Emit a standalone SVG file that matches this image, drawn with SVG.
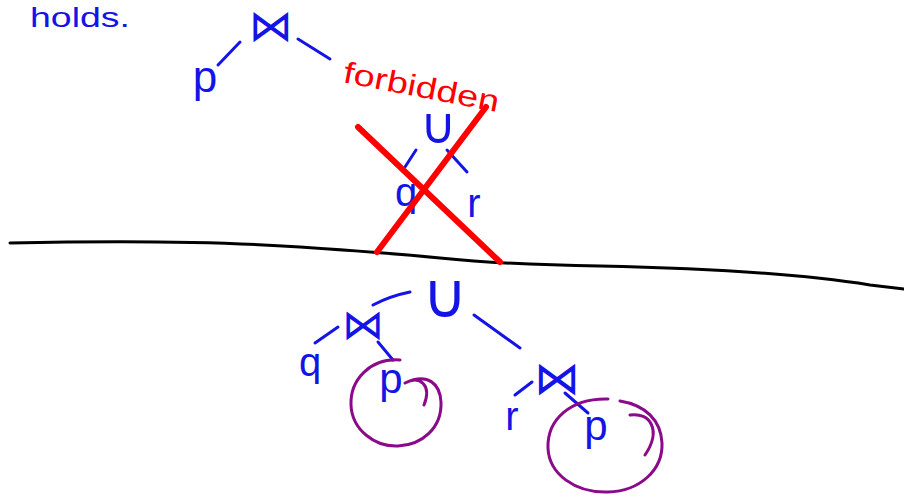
<svg xmlns="http://www.w3.org/2000/svg" width="904" height="496" viewBox="0 0 904 496">
<style>
.b{fill:#1414e6;font-family:"Liberation Sans","DejaVu Sans",sans-serif;text-anchor:middle}
.sym{fill:#1414e6;font-family:"DejaVu Sans",sans-serif;text-anchor:middle}
.e{fill:none;stroke:#1414e6;stroke-width:3;stroke-linecap:round}
.red{fill:none;stroke:#ff0000;stroke-width:6;stroke-linecap:round}
.circ{fill:none;stroke:#8a0a8a;stroke-width:3;stroke-linecap:round}
</style>
<rect width="904" height="496" fill="#ffffff"/>
<path d="M10,243 C100,241 200,240 300,247 C360,251 400,254 440,258 C480,262 520,265 600,266 C700,268 800,274 870,285 L904,289" fill="none" stroke="#000000" stroke-width="3" stroke-linecap="round"/>
<text x="30" y="27" class="b" style="text-anchor:start" font-size="28" textLength="100" lengthAdjust="spacingAndGlyphs">holds.</text>
<g id="connectors">
<path class="e" d="M218,65 L240,42"/>
<path class="e" d="M298,39 L330,59"/>
<path class="e" d="M416,150 L405,167"/>
<path class="e" d="M447,150 L467,172"/>
<path class="e" d="M373,305 Q390,296 410,292"/>
<path class="e" d="M474,315 L520,348"/>
<path class="e" d="M315,343 L338,327"/>
<path class="e" d="M378,342 L393,360"/>
<path class="e" d="M515,395 L532,382"/>
<path class="e" d="M565,393 L588,413"/>
</g>
<g id="top-join"><text x="271" y="41" class="sym" font-size="44">⋈</text></g>
<g id="top-p"><text x="205" y="92" class="b" font-size="44">p</text></g>
<g id="forbidden"><text x="0" y="0" transform="translate(342,82) rotate(11)" fill="#ff0000" font-family="Liberation Sans,sans-serif" font-size="30" textLength="158" lengthAdjust="spacingAndGlyphs">forbidden</text></g>
<g id="crossed-union"><text x="438" y="143" class="sym" font-size="50">∪</text></g>
<g id="crossed-q"><text x="406" y="206" class="b" font-size="40">q</text></g>
<g id="crossed-r"><text x="474" y="217" class="b" font-size="40">r</text></g>
<g id="cross"><path class="red" d="M358,127 L500,262"/><path class="red" d="M377,252 L486,107"/></g>
<g id="union"><text x="445" y="317" class="sym" font-size="62">∪</text></g>
<g id="join-left"><text x="363" y="339" class="sym" font-size="42">⋈</text></g>
<g id="q"><text x="310" y="376" class="b" font-size="40">q</text></g>
<g id="p-left"><text x="391" y="393" class="b" font-size="42">p</text><path class="circ" d="M400,360 C370,358 350,380 351,405 C352,430 375,447 398,446 C422,445 442,428 441,402 C440,384 428,372 405,383 M405,383 C420,375 432,385 424,405"/></g>
<g id="join-right"><text x="557" y="394" class="sym" font-size="46">⋈</text></g>
<g id="r"><text x="512" y="430" class="b" font-size="40">r</text></g>
<g id="p-right"><text x="596" y="440" class="b" font-size="42">p</text><path class="circ" d="M608,399 C570,398 547,420 548,448 C549,474 575,493 608,492 C640,491 663,470 662,443 C661,420 645,405 620,401 M630,415 C650,412 662,430 645,455"/></g>
</svg>
